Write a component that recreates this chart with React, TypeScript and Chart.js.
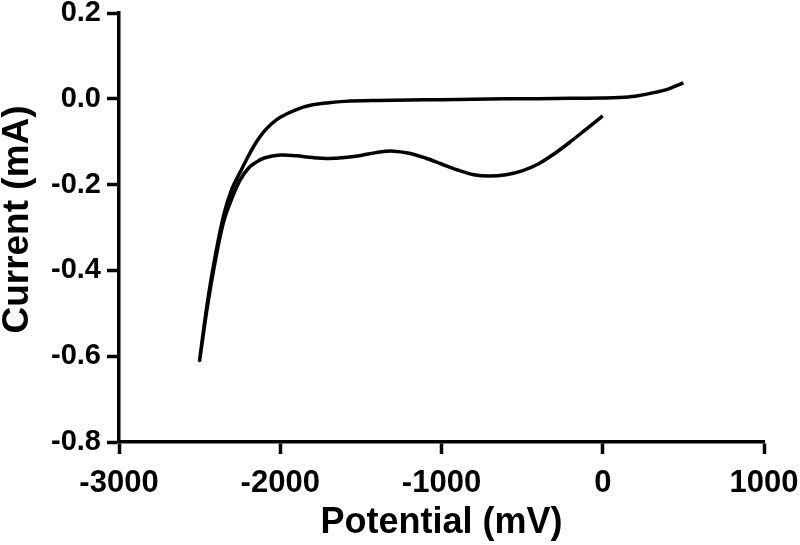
import React, { useEffect, useRef } from "react";
import { Chart, registerables } from "chart.js";

Chart.register(...registerables);

// Forward scan: 0 mV -> -2500 mV
const forwardPotential = [0, -100, -200, -300, -400, -500, -600, -700, -800, -900, -1000, -1100, -1200, -1300, -1400, -1500, -1600, -1700, -1800, -1900, -2000, -2100, -2150, -2200, -2250, -2300, -2350, -2400, -2450, -2500];
const forwardCurrent = [-0.04, -0.07, -0.1, -0.128, -0.152, -0.168, -0.177, -0.18, -0.177, -0.166, -0.152, -0.138, -0.127, -0.122, -0.125, -0.132, -0.137, -0.139, -0.137, -0.133, -0.131, -0.138, -0.148, -0.163, -0.19, -0.232, -0.285, -0.372, -0.48, -0.61];

// Reverse scan: -2500 mV -> +500 mV
const reversePotential = [-2450, -2400, -2350, -2300, -2250, -2200, -2150, -2100, -2050, -2000, -1900, -1800, -1700, -1600, -1400, -1200, -1000, -800, -600, -400, -200, 0, 100, 200, 300, 400, 500];
const reverseCurrent = [-0.47, -0.36, -0.27, -0.21, -0.172, -0.135, -0.102, -0.076, -0.057, -0.043, -0.025, -0.014, -0.009, -0.006, -0.004, -0.003, -0.002, -0.001, 0, 0, 0.001, 0.002, 0.003, 0.006, 0.013, 0.022, 0.037];

const xTicks = [-3000, -2000, -1000, 0, 1000];
const yTicks = [-0.8, -0.6, -0.4, -0.2, 0.0, 0.2];

const xTitle = "Potential (mV)";
const yTitle = "Current (mA)";

const FAMILY = "'Liberation Sans', Arial, sans-serif";

const yTitlePlugin = {
  id: "yTitlePlugin",
  afterDraw(chart: any) {
    const ctx = chart.ctx;
    const area = chart.chartArea;
    ctx.save();
    ctx.translate(18, (area.top + area.bottom) / 2 - 8);
    ctx.rotate(-Math.PI / 2);
    ctx.font = `bold 37px ${FAMILY}`;
    ctx.fillStyle = "#000";
    ctx.textAlign = "center";
    ctx.textBaseline = "middle";
    ctx.fillText(yTitle, 0, 0);
    ctx.restore();
  },
};

export default function App() {
  const ref = useRef<HTMLCanvasElement | null>(null);

  useEffect(() => {
    if (!ref.current) return;
    const points = [
      ...forwardPotential.map((x, i) => ({ x, y: forwardCurrent[i] })),
      ...reversePotential.map((x, i) => ({ x, y: reverseCurrent[i] })),
    ];
    const tickFontX = { family: FAMILY, size: 31, weight: "bold" as const };
    const tickFontY = { family: FAMILY, size: 29, weight: "bold" as const };
    const titleFont = { family: FAMILY, size: 36, weight: "bold" as const };
    const chart = new Chart(ref.current, {
      type: "scatter",
      data: {
        datasets: [
          {
            data: points,
            showLine: true,
            borderColor: "#000",
            borderWidth: 3.5,
            pointRadius: 0,
            tension: 0.35,
            fill: false,
          },
        ],
      },
      plugins: [yTitlePlugin],
      options: {
        animation: false,
        responsive: false,
        maintainAspectRatio: false,
        layout: { padding: 0 },
        plugins: { legend: { display: false }, tooltip: { enabled: false } },
        scales: {
          x: {
            type: "linear",
            min: xTicks[0],
            max: xTicks[xTicks.length - 1],
            afterBuildTicks: (s: any) => {
              s.ticks = xTicks.map((v) => ({ value: v }));
            },
            afterFit: (s: any) => {
              s.height = 103;
              s.paddingRight = 36;
              s.paddingLeft = 0;
            },
            ticks: {
              color: "#000",
              font: tickFontX,
              padding: 11,
              maxRotation: 0,
              autoSkip: false,
              callback: (v: any) => String(v),
            },
            grid: { drawOnChartArea: false, drawTicks: true, tickLength: 12, tickWidth: 3.5, tickColor: "#000" },
            border: { display: true, color: "#000", width: 3.5 },
            title: { display: true, text: xTitle, color: "#000", font: titleFont, padding: { top: 0, bottom: 0 } },
          },
          y: {
            type: "linear",
            min: yTicks[0],
            max: yTicks[yTicks.length - 1],
            afterBuildTicks: (s: any) => {
              s.ticks = yTicks.map((v) => ({ value: v }));
            },
            afterFit: (s: any) => {
              s.width = 119;
              s.paddingTop = 13;
              s.paddingBottom = 0;
            },
            ticks: {
              color: "#000",
              font: tickFontY,
              padding: 6,
              autoSkip: false,
              callback: (v: any) => Number(v).toFixed(1),
            },
            grid: { drawOnChartArea: false, drawTicks: true, tickLength: 12, tickWidth: 3.5, tickColor: "#000" },
            border: { display: true, color: "#000", width: 3.5 },
            title: { display: false, text: yTitle },
          },
        },
      },
    });
    return () => chart.destroy();
  }, []);

  return (
    <div style={{ position: "absolute", left: 0, top: 0, width: 800, height: 545, background: "#fff" }}>
      <canvas ref={ref} width={800} height={545} style={{ display: "block" }} />
    </div>
  );
}
